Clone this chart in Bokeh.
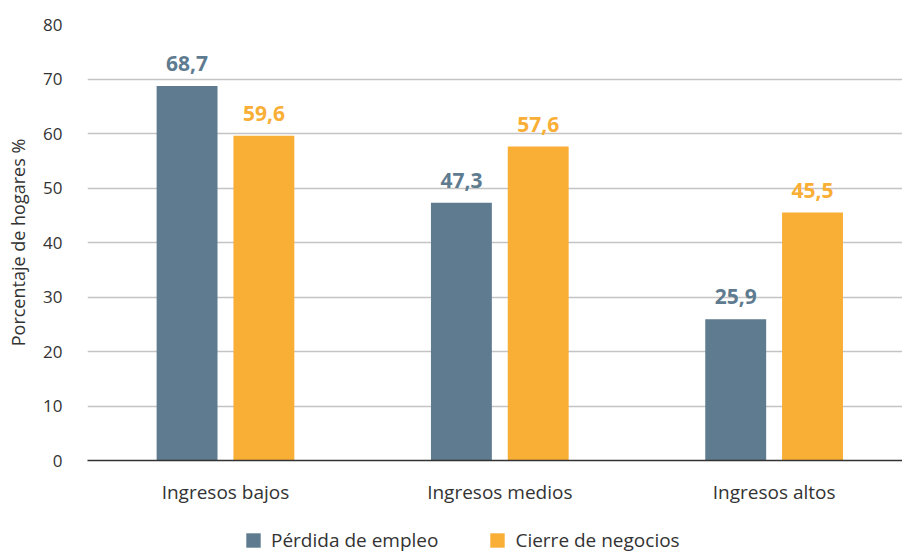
from bokeh.plotting import figure
from bokeh.layouts import column
from bokeh.models import ColumnDataSource, Legend, LegendItem, FixedTicker, Range1d
from bokeh.core.properties import value
from bokeh.embed import file_html
from bokeh.resources import INLINE

categories = ["Ingresos bajos", "Ingresos medios", "Ingresos altos"]
perdida_empleo = [68.7, 47.3, 25.9]
cierre_negocios = [59.6, 57.6, 45.5]
series_names = ["Pérdida de empleo", "Cierre de negocios"]
y_ticks = [0, 10, 20, 30, 40, 50, 60, 70, 80]

BLUE = "#5e7b8f"
ORANGE = "#f9ae36"
FONT = "Open Sans"
TXT = "#333333"

idx = list(range(len(categories)))
off = 0.14
bw = 0.222

src_a = ColumnDataSource(dict(x=[i - off for i in idx], top=perdida_empleo,
                              lab=[f"{v:.1f}".replace(".", ",") for v in perdida_empleo]))
src_b = ColumnDataSource(dict(x=[i + off for i in idx], top=cierre_negocios,
                              lab=[f"{v:.1f}".replace(".", ",") for v in cierre_negocios]))

p = figure(width=902, height=517, output_backend="svg", toolbar_location=None,
           x_range=Range1d(-0.503, 2.468), y_range=Range1d(0, 80),
           min_border_left=87, min_border_right=0, min_border_top=24, min_border_bottom=57)
p.outline_line_color = None
p.background_fill_color = "white"

p.vbar(x="x", top="top", width=bw, source=src_a, color=BLUE, line_color=None)
p.vbar(x="x", top="top", width=bw, source=src_b, color=ORANGE, line_color=None)

p.text(x="x", y="top", text="lab", source=src_a, text_color=BLUE,
       text_font=value(FONT), text_font_style="bold", text_font_size="21px",
       text_align="center", text_baseline="bottom", y_offset=-15)
p.text(x="x", y="top", text="lab", source=src_b, text_color=ORANGE,
       text_font=value(FONT), text_font_style="bold", text_font_size="21px",
       text_align="center", text_baseline="bottom", y_offset=-15)

# axes
p.xaxis.ticker = FixedTicker(ticks=idx)
p.xaxis.major_label_overrides = {i: c for i, c in enumerate(categories)}
p.xaxis.major_tick_line_color = None
p.xaxis.minor_tick_line_color = None
p.xaxis.axis_line_color = "#333333"
p.xaxis.axis_line_width = 1.5
p.xaxis.major_label_text_font = FONT
p.xaxis.major_label_text_font_size = "19px"
p.xaxis.major_label_text_color = TXT
p.xaxis.major_label_standoff = 12

p.yaxis.ticker = FixedTicker(ticks=y_ticks)
p.yaxis.axis_line_color = None
p.yaxis.major_tick_line_color = None
p.yaxis.minor_tick_line_color = None
p.yaxis.major_label_text_font = FONT
p.yaxis.major_label_text_font_size = "17px"
p.yaxis.major_label_text_color = TXT
p.yaxis.major_label_standoff = 19
p.yaxis.axis_label = "Porcentaje de hogares %"
p.yaxis.axis_label_text_font = FONT
p.yaxis.axis_label_text_font_style = "normal"
p.yaxis.axis_label_text_font_size = "18px"
p.yaxis.axis_label_text_color = TXT
p.yaxis.axis_label_standoff = 10

p.xgrid.grid_line_color = None
p.ygrid.grid_line_color = "#c4c4c4"
p.ygrid.grid_line_width = 1.5

# legend strip (frames of the column are aligned, so x is relative to x=87)
lg = figure(width=902, height=36, output_backend="svg", toolbar_location=None,
            x_range=Range1d(0, 1), y_range=Range1d(0, 1),
            min_border_left=0, min_border_right=0, min_border_top=0, min_border_bottom=0)
lg.axis.visible = False
lg.grid.visible = False
lg.outline_line_color = None
# swatch renderers: zero-height bars outside the visible range, used only for legend glyphs
l1 = lg.vbar(x=[-1], top=[0], width=0.1, color=BLUE, line_color=None)
l2 = lg.vbar(x=[-1], top=[0], width=0.1, color=ORANGE, line_color=None)
legend = Legend(items=[LegendItem(label=series_names[0], renderers=[l1]),
                       LegendItem(label=series_names[1], renderers=[l2])],
                orientation="horizontal", location=(157, 0),
                label_text_font=FONT, label_text_font_size="19px", label_text_color=TXT,
                glyph_width=18, glyph_height=18, label_standoff=9, spacing=50,
                border_line_color=None, background_fill_alpha=0, margin=0, padding=0)
lg.add_layout(legend)

layout = column(p, lg, spacing=0)
open("out.html", "w").write(file_html(layout, INLINE))
